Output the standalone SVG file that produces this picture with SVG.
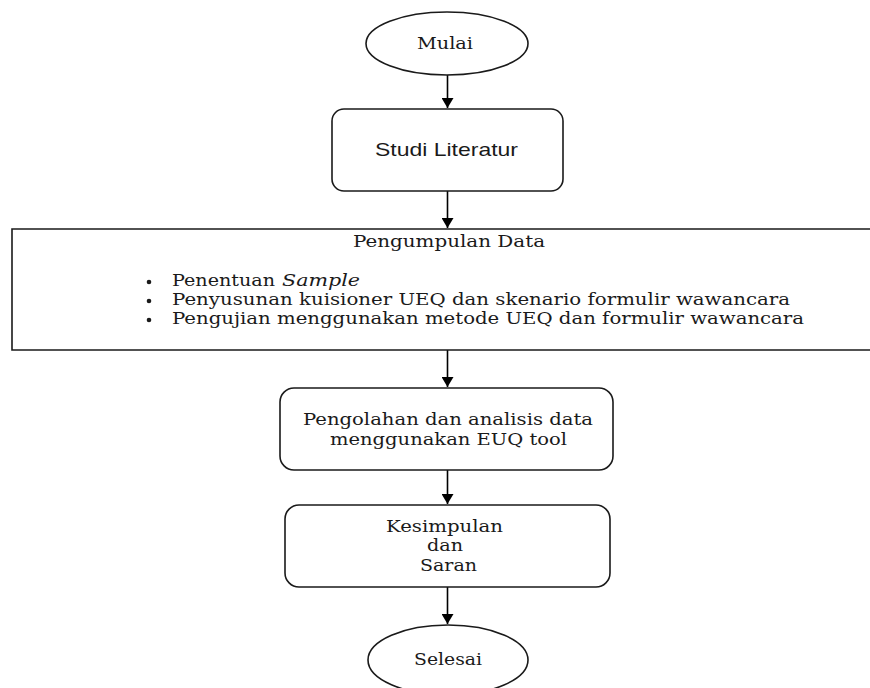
<svg xmlns="http://www.w3.org/2000/svg" width="870" height="688" viewBox="0 0 870 688">
<defs>
<marker id="ah" markerWidth="12" markerHeight="12" refX="10" refY="6" orient="auto" markerUnits="userSpaceOnUse">
<path d="M0,0 L10,6 L0,12 Z" fill="#000"/>
</marker>
<style>
.sh{fill:#fff;stroke:#1a1a1a;stroke-width:1.6}
.se{font-family:"DejaVu Serif","Liberation Serif",serif;font-size:16px;fill:#1a1a1a}
.sa{font-family:"Liberation Sans",Arial,sans-serif;font-size:19px;fill:#1a1a1a}
.cn{stroke:#000;stroke-width:1.6;fill:none;marker-end:url(#ah)}
</style>
</defs>
<rect width="870" height="688" fill="#fff"/>
<g id="connectors">
<line class="cn" x1="447.5" y1="75" x2="447.5" y2="108"/>
<line class="cn" x1="447.5" y1="191" x2="447.5" y2="228"/>
<line class="cn" x1="447.5" y1="350" x2="447.5" y2="387"/>
<line class="cn" x1="447.5" y1="470" x2="447.5" y2="504"/>
<line class="cn" x1="447.5" y1="587" x2="447.5" y2="624"/>
</g>
<g id="mulai">
<ellipse class="sh" cx="447" cy="43.5" rx="81" ry="31.5"/>
<text class="se" x="417" y="49" textLength="56" lengthAdjust="spacingAndGlyphs">Mulai</text>
</g>
<g id="studi">
<rect class="sh" x="332" y="109" width="231" height="82" rx="12"/>
<text class="sa" x="375" y="156" textLength="143" lengthAdjust="spacingAndGlyphs">Studi Literatur</text>
</g>
<g id="pengumpulan">
<path class="sh" d="M880,229 L12,229 L12,350 L880,350"/>
<text class="se" x="353" y="247" textLength="192" lengthAdjust="spacingAndGlyphs">Pengumpulan Data</text>
<circle cx="149" cy="282" r="2.3" fill="#1a1a1a"/>
<circle cx="149" cy="301" r="2.3" fill="#1a1a1a"/>
<circle cx="149" cy="320" r="2.3" fill="#1a1a1a"/>
<text class="se" x="172" y="286" textLength="103" lengthAdjust="spacingAndGlyphs">Penentuan</text>
<text class="se" x="282" y="286" font-style="italic" textLength="78" lengthAdjust="spacingAndGlyphs">Sample</text>
<text class="se" x="172" y="305" textLength="618" lengthAdjust="spacingAndGlyphs">Penyusunan kuisioner UEQ dan skenario formulir wawancara</text>
<text class="se" x="172" y="324" textLength="632" lengthAdjust="spacingAndGlyphs">Pengujian menggunakan metode UEQ dan formulir wawancara</text>
</g>
<g id="pengolahan">
<rect class="sh" x="280" y="388" width="333" height="82" rx="14"/>
<text class="se" x="303" y="425" textLength="290" lengthAdjust="spacingAndGlyphs">Pengolahan dan analisis data</text>
<text class="se" x="330" y="445" textLength="237" lengthAdjust="spacingAndGlyphs">menggunakan EUQ tool</text>
</g>
<g id="kesimpulan">
<rect class="sh" x="285" y="505" width="325" height="82" rx="14"/>
<text class="se" x="386" y="532" textLength="117" lengthAdjust="spacingAndGlyphs">Kesimpulan</text>
<text class="se" x="427" y="551" textLength="36" lengthAdjust="spacingAndGlyphs">dan</text>
<text class="se" x="420" y="571" textLength="57" lengthAdjust="spacingAndGlyphs">Saran</text>
</g>
<g id="selesai">
<ellipse class="sh" cx="448" cy="660" rx="80" ry="35"/>
<text class="se" x="414" y="665" textLength="68" lengthAdjust="spacingAndGlyphs">Selesai</text>
</g>
</svg>
